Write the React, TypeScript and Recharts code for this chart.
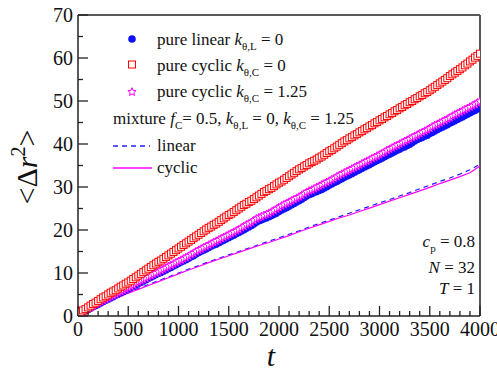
import React from 'react';
import { ComposedChart, XAxis, YAxis, Scatter, Line, ReferenceLine } from 'recharts';

// time points for the marker series
const tMark = [
  0, 25, 50, 75, 100, 125, 150, 175, 200, 225,
  250, 275, 300, 325, 350, 375, 400, 425, 450, 475,
  500, 525, 550, 575, 600, 625, 650, 675, 700, 725,
  750, 775, 800, 825, 850, 875, 900, 925, 950, 975,
  1000, 1025, 1050, 1075, 1100, 1125, 1150, 1175, 1200, 1225,
  1250, 1275, 1300, 1325, 1350, 1375, 1400, 1425, 1450, 1475,
  1500, 1525, 1550, 1575, 1600, 1625, 1650, 1675, 1700, 1725,
  1750, 1775, 1800, 1825, 1850, 1875, 1900, 1925, 1950, 1975,
  2000, 2025, 2050, 2075, 2100, 2125, 2150, 2175, 2200, 2225,
  2250, 2275, 2300, 2325, 2350, 2375, 2400, 2425, 2450, 2475,
  2500, 2525, 2550, 2575, 2600, 2625, 2650, 2675, 2700, 2725,
  2750, 2775, 2800, 2825, 2850, 2875, 2900, 2925, 2950, 2975,
  3000, 3025, 3050, 3075, 3100, 3125, 3150, 3175, 3200, 3225,
  3250, 3275, 3300, 3325, 3350, 3375, 3400, 3425, 3450, 3475,
  3500, 3525, 3550, 3575, 3600, 3625, 3650, 3675, 3700, 3725,
  3750, 3775, 3800, 3825, 3850, 3875, 3900, 3925, 3950, 3975,
  4000,
];

// pure linear, k_theta,L = 0
const pureLinear = [
  0.3, 0.6, 0.9, 1.2, 1.5, 1.8, 2.1, 2.4, 2.7, 3.0,
  3.3, 3.6, 3.9, 4.2, 4.5, 4.8, 5.1, 5.4, 5.7, 6.0,
  6.3, 6.6, 6.9, 7.2, 7.5, 7.8, 8.1, 8.4, 8.7, 9.0,
  9.3, 9.6, 9.9, 10.1, 10.4, 10.7, 11.0, 11.3, 11.6, 11.9,
  12.2, 12.5, 12.8, 13.1, 13.4, 13.7, 14.0, 14.4, 14.7, 15.0,
  15.3, 15.6, 15.9, 16.2, 16.5, 16.7, 17.0, 17.3, 17.6, 17.9,
  18.2, 18.5, 18.8, 19.1, 19.4, 19.7, 20.0, 20.4, 20.7, 21.0,
  21.4, 21.8, 22.1, 22.3, 22.6, 22.8, 23.1, 23.3, 23.6, 23.9,
  24.3, 24.6, 24.9, 25.2, 25.5, 25.8, 26.1, 26.5, 26.8, 27.1,
  27.5, 27.9, 28.2, 28.4, 28.7, 28.9, 29.2, 29.4, 29.7, 30.0,
  30.4, 30.7, 31.0, 31.3, 31.6, 31.9, 32.2, 32.5, 32.8, 33.1,
  33.4, 33.7, 34.0, 34.3, 34.6, 34.9, 35.2, 35.5, 35.8, 36.1,
  36.4, 36.7, 37.0, 37.3, 37.6, 37.9, 38.2, 38.5, 38.8, 39.1,
  39.3, 39.6, 39.9, 40.3, 40.7, 41.0, 41.3, 41.5, 41.8, 42.0,
  42.4, 42.7, 43.0, 43.3, 43.6, 43.9, 44.2, 44.5, 44.8, 45.1,
  45.4, 45.7, 46.0, 46.3, 46.6, 46.9, 47.2, 47.5, 47.8, 48.1,
  48.4,
];

// pure cyclic, k_theta,C = 0
const pureCyclic0 = [
  0.5, 0.9, 1.3, 1.6, 2.0, 2.4, 2.8, 3.1, 3.5, 3.9,
  4.3, 4.6, 5.0, 5.4, 5.7, 6.0, 6.4, 6.8, 7.1, 7.5,
  7.8, 8.2, 8.6, 9.0, 9.4, 9.8, 10.2, 10.6, 11.0, 11.4,
  11.8, 12.2, 12.6, 12.9, 13.3, 13.7, 14.1, 14.5, 14.9, 15.3,
  15.7, 16.1, 16.5, 16.9, 17.3, 17.7, 18.1, 18.5, 18.9, 19.3,
  19.7, 20.1, 20.5, 20.8, 21.2, 21.5, 21.9, 22.3, 22.7, 23.1,
  23.5, 23.8, 24.2, 24.6, 25.0, 25.4, 25.8, 26.1, 26.5, 26.8,
  27.2, 27.6, 28.0, 28.4, 28.8, 29.1, 29.5, 29.8, 30.2, 30.6,
  31.0, 31.3, 31.7, 32.1, 32.5, 32.9, 33.3, 33.7, 34.1, 34.4,
  34.8, 35.1, 35.5, 35.8, 36.1, 36.4, 36.8, 37.1, 37.5, 37.9,
  38.3, 38.6, 39.0, 39.4, 39.8, 40.2, 40.6, 40.9, 41.3, 41.6,
  42.0, 42.3, 42.7, 43.0, 43.4, 43.7, 44.1, 44.4, 44.8, 45.1,
  45.5, 45.8, 46.2, 46.5, 46.9, 47.2, 47.6, 47.9, 48.3, 48.6,
  49.0, 49.3, 49.7, 50.0, 50.4, 50.7, 51.1, 51.4, 51.8, 52.1,
  52.5, 52.9, 53.3, 53.7, 54.1, 54.5, 54.9, 55.3, 55.8, 56.2,
  56.6, 57.0, 57.4, 57.8, 58.3, 58.7, 59.2, 59.6, 60.1, 60.5,
  61.0,
];

// pure cyclic, k_theta,C = 1.25
const pureCyclic125 = [
  0.5, 0.8, 1.1, 1.4, 1.7, 2.0, 2.3, 2.7, 3.0, 3.3,
  3.6, 3.9, 4.2, 4.5, 4.8, 5.1, 5.4, 5.7, 6.0, 6.3,
  6.6, 6.9, 7.2, 7.6, 7.9, 8.2, 8.5, 8.8, 9.1, 9.4,
  9.7, 10.0, 10.3, 10.6, 10.9, 11.2, 11.5, 11.8, 12.1, 12.4,
  12.7, 13.0, 13.3, 13.6, 13.9, 14.3, 14.6, 15.0, 15.3, 15.6,
  15.9, 16.2, 16.5, 16.8, 17.1, 17.4, 17.7, 18.0, 18.3, 18.6,
  18.9, 19.2, 19.5, 19.8, 20.1, 20.5, 20.8, 21.2, 21.5, 21.8,
  22.2, 22.6, 22.9, 23.1, 23.4, 23.6, 23.9, 24.2, 24.5, 24.9,
  25.2, 25.6, 25.9, 26.2, 26.5, 26.8, 27.1, 27.4, 27.7, 28.0,
  28.4, 28.8, 29.1, 29.3, 29.6, 29.9, 30.2, 30.5, 30.8, 31.1,
  31.4, 31.7, 32.0, 32.4, 32.7, 33.0, 33.3, 33.6, 33.9, 34.2,
  34.5, 34.8, 35.1, 35.4, 35.7, 36.0, 36.3, 36.6, 36.9, 37.2,
  37.5, 37.8, 38.1, 38.5, 38.8, 39.1, 39.4, 39.7, 40.0, 40.3,
  40.6, 40.9, 41.2, 41.5, 41.8, 42.1, 42.4, 42.7, 43.0, 43.3,
  43.6, 44.0, 44.3, 44.6, 44.9, 45.2, 45.5, 45.8, 46.1, 46.5,
  46.8, 47.1, 47.4, 47.7, 48.0, 48.3, 48.6, 48.9, 49.2, 49.6,
  49.9,
];

// time points for the mixture curves
const tLine = [
  0, 100, 200, 300, 400, 500, 600, 700, 800, 900, 1000, 1100, 1200, 1300, 1400, 1500, 1600, 1700, 1800, 1900,
  2000, 2100, 2200, 2300, 2400, 2500, 2600, 2700, 2800, 2900, 3000, 3100, 3200, 3300, 3400, 3500, 3600, 3700, 3800, 3900,
  4000,
];

// mixture f_C = 0.5: linear chains
const mixLinear = [
  0, 1.3, 2.4, 3.4, 4.4, 5.4, 6.4, 7.3, 8.2, 9.1, 10.0, 10.9, 11.7, 12.6, 13.4, 14.2, 15.0, 15.8, 16.6, 17.4,
  18.2, 19.0, 19.8, 20.7, 21.5, 22.3, 23.1, 23.9, 24.7, 25.5, 26.3, 27.1, 27.9, 28.7, 29.6, 30.4, 31.3, 32.1, 33.0, 34.0,
  35.3,
];

// mixture f_C = 0.5: cyclic chains
const mixCyclic = [
  0, 1.2, 2.3, 3.3, 4.3, 5.3, 6.2, 7.1, 8.0, 8.9, 9.8, 10.7, 11.5, 12.4, 13.2, 14.0, 14.8, 15.6, 16.4, 17.1,
  17.9, 18.7, 19.6, 20.4, 21.2, 22.0, 22.8, 23.5, 24.3, 25.1, 25.9, 26.7, 27.5, 28.3, 29.1, 29.9, 30.8, 31.6, 32.4, 33.3,
  34.9,
];

const xTicks = [
  0, 100, 200, 300, 400, 500, 600, 700, 800, 900, 1000, 1100, 1200, 1300, 1400, 1500, 1600, 1700, 1800, 1900,
  2000, 2100, 2200, 2300, 2400, 2500, 2600, 2700, 2800, 2900, 3000, 3100, 3200, 3300, 3400, 3500, 3600, 3700, 3800, 3900,
  4000,
];
const yTicks = [0, 5, 10, 15, 20, 25, 30, 35, 40, 45, 50, 55, 60, 65, 70];

const FONT = "'Liberation Serif', 'Times New Roman', Times, serif";
const AXIS = '#222';
const serif = { fontFamily: FONT };

const toPoints = (ts: number[], ys: number[]) =>
  ts.filter((_, i) => ys[i] !== undefined).map((t, i) => ({ t, y: ys[i] }));

const XTick = (props: any) => {
  const { x, y, payload } = props;
  const major = payload.value % 500 === 0;
  return (
    <g>
      <line x1={x} y1={y} x2={x} y2={y - (major ? 10 : 5)} stroke={AXIS} strokeWidth={1.3} />
      {major && (
        <text x={x} y={y + 20} textAnchor="middle" fontSize={20} style={serif} fill="#111">
          {payload.value}
        </text>
      )}
    </g>
  );
};

const YTick = (props: any) => {
  const { x, y, payload } = props;
  const major = payload.value % 10 === 0;
  return (
    <g>
      <line x1={x} y1={y} x2={x + (major ? 10 : 5)} y2={y} stroke={AXIS} strokeWidth={1.3} />
      {major && (
        <text x={x - 5} y={y + 7} textAnchor="end" fontSize={20} style={serif} fill="#111">
          {payload.value}
        </text>
      )}
    </g>
  );
};

const Circle = (p: any) => <circle cx={p.cx} cy={p.cy} r={3.6} fill="#1010ff" />;
const Square = (p: any) => (
  <rect x={p.cx - 3.5} y={p.cy - 3.5} width={7} height={7} fill="#fff" stroke="#ff0000" strokeWidth={1} />
);
const starPath = (cx: number, cy: number, r: number) => {
  const pts: string[] = [];
  for (let i = 0; i < 10; i++) {
    const rr = i % 2 === 0 ? r : r * 0.45;
    const a = (Math.PI / 5) * i - Math.PI / 2;
    pts.push(`${(cx + rr * Math.cos(a)).toFixed(2)},${(cy + rr * Math.sin(a)).toFixed(2)}`);
  }
  return `M${pts.join('L')}Z`;
};
const Star = (p: any) => <path d={starPath(p.cx, p.cy, 4.3)} fill="#fff" stroke="#ff00ff" strokeWidth={1} />;

const Sub = ({ children }: { children: React.ReactNode }) => (
  <>
    <tspan dy={5} fontSize={11}>{children}</tspan>
    <tspan dy={-5}> </tspan>
  </>
);

export default function App() {
  return (
    <div style={{ position: 'absolute', left: 0, top: 0, width: 497, height: 372, background: '#fff' }}>
      <ComposedChart width={497} height={372} margin={{ top: 15, right: 17, bottom: 0, left: 0 }}>
        <XAxis
          type="number"
          dataKey="t"
          domain={[0, 4000]}
          ticks={xTicks}
          interval={0}
          height={56}
          tickSize={0}
          tickMargin={0}
          tickLine={false}
          axisLine={{ stroke: AXIS, strokeWidth: 1.5 }}
          tick={<XTick />}
          allowDataOverflow
        />
        <YAxis
          type="number"
          dataKey="y"
          domain={[0, 70]}
          ticks={yTicks}
          interval={0}
          width={78}
          tickSize={0}
          tickMargin={0}
          tickLine={false}
          axisLine={{ stroke: AXIS, strokeWidth: 1.5 }}
          tick={<YTick />}
          allowDataOverflow
        />
        <ReferenceLine y={70} stroke={AXIS} strokeWidth={1.5} />
        <ReferenceLine x={4000} stroke="#555" strokeWidth={2} />
        <Scatter data={toPoints(tMark, pureLinear)} shape={<Circle />} isAnimationActive={false} />
        <Scatter data={toPoints(tMark, pureCyclic125)} shape={<Star />} isAnimationActive={false} />
        <Scatter data={toPoints(tMark, pureCyclic0)} shape={<Square />} isAnimationActive={false} />
        <Line
          data={toPoints(tLine, mixLinear)}
          dataKey="y"
          stroke="#2020ff"
          strokeWidth={1.2}
          strokeDasharray="5 4"
          dot={false}
          isAnimationActive={false}
        />
        <Line
          data={toPoints(tLine, mixCyclic)}
          dataKey="y"
          stroke="#ff00ff"
          strokeWidth={1.2}
          dot={false}
          isAnimationActive={false}
        />
      </ComposedChart>

      <svg
        width={497}
        height={372}
        style={{ position: 'absolute', left: 0, top: 0, pointerEvents: 'none', fontFamily: FONT }}
        fill="#111"
      >
        {/* legend */}
        <circle cx={132} cy={39} r={3.8} fill="#1010ff" />
        <text x={157} y={45} fontSize={17}>
          pure linear <tspan fontStyle="italic">k</tspan>
          <Sub>θ,L</Sub>= 0
        </text>
        <rect x={128.5} y={61} width={7} height={7} fill="#fff" stroke="#ff0000" strokeWidth={1} />
        <text x={157} y={71} fontSize={17}>
          pure cyclic <tspan fontStyle="italic">k</tspan>
          <Sub>θ,C</Sub>= 0
        </text>
        <path d={starPath(132, 92, 4.3)} fill="#fff" stroke="#ff00ff" strokeWidth={1} />
        <text x={157} y={97} fontSize={17}>
          pure cyclic <tspan fontStyle="italic">k</tspan>
          <Sub>θ,C</Sub>= 1.25
        </text>
        <text x={113} y={124} fontSize={17}>
          mixture  <tspan fontStyle="italic">f</tspan>
          <tspan dy={5} fontSize={11}>C</tspan>
          <tspan dy={-5}>= 0.5, </tspan>
          <tspan fontStyle="italic">k</tspan>
          <Sub>θ,L</Sub>= 0, <tspan fontStyle="italic">k</tspan>
          <Sub>θ,C</Sub>= 1.25
        </text>
        <line x1={113} y1={146} x2={150} y2={146} stroke="#2020ff" strokeWidth={1.3} strokeDasharray="5 4" />
        <text x={157} y={151} fontSize={17}>linear</text>
        <line x1={113} y1={168} x2={152} y2={168} stroke="#ff00ff" strokeWidth={1.3} />
        <text x={157} y={173} fontSize={17}>cyclic</text>

        {/* parameters */}
        <text x={475} y={247} fontSize={17} textAnchor="end">
          <tspan fontStyle="italic">c</tspan>
          <tspan dy={5} fontSize={11}>p</tspan>
          <tspan dy={-5}> = 0.8</tspan>
        </text>
        <text x={475} y={273} fontSize={17} textAnchor="end">
          <tspan fontStyle="italic">N</tspan> = 32
        </text>
        <text x={475} y={294} fontSize={17} textAnchor="end">
          <tspan fontStyle="italic">T</tspan> = 1
        </text>

        {/* axis titles */}
        <text x={271} y={366} fontSize={30} fontStyle="italic" textAnchor="middle">t</text>
        <text transform="translate(37,167) rotate(-90)" fontSize={30} textAnchor="middle">
          {'<Δ'}
          <tspan fontStyle="italic">r</tspan>
          <tspan dy={-12} fontSize={20}>2</tspan>
          <tspan dy={12}>{'>'}</tspan>
        </text>
      </svg>
    </div>
  );
}
